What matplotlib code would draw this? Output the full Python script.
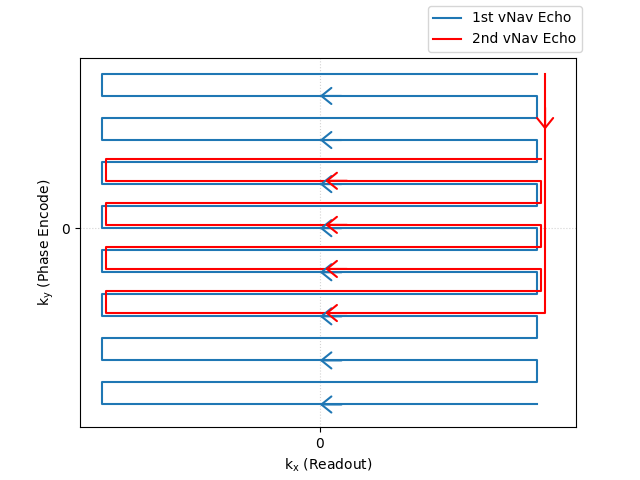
import matplotlib
matplotlib.use("Agg")
import matplotlib.pyplot as plt
import numpy as np

# data
blue_ky = list(range(-8, 8))          # phase-encode lines, bottom to top
blue_kx_left, blue_kx_right = -1.0, 1.0
red_ky = [-3.85, -2.85, -1.85, -0.85, 0.15, 1.15, 2.15, 3.15]
red_kx_left, red_kx_right = -0.9825, 1.0175
red_start_kx, red_start_ky = 1.035, 7.0
red_down_arrow_ky = 4.47

def snake(kys, xl, xr):
    xs, ys = [], []
    for i, y in enumerate(kys):
        if i % 2 == 0:
            xs += [xr, xl]
        else:
            xs += [xl, xr]
        ys += [y, y]
    return xs, ys

fig, ax = plt.subplots(figsize=(6.4, 4.8), dpi=100)

bx, by = snake(blue_ky, blue_kx_left, blue_kx_right)
ax.plot(bx, by, color='#1f77b4', lw=1.5, label='1st vNav Echo')

rx, ry = snake(red_ky, red_kx_left, red_kx_right)
rx = [red_start_kx, red_start_kx] + rx[1:]
ry = [red_start_ky, red_ky[0]] + ry[1:]
ax.plot(rx, ry, color='red', lw=1.5, label='2nd vNav Echo')

def arrow(x, y, dx, dy, color):
    ax.annotate('', xy=(x, y), xytext=(x + dx, y + dy),
                arrowprops=dict(arrowstyle='->, head_length=0.36, head_width=0.29',
                                color=color, lw=1.5,
                                mutation_scale=20, shrinkA=0, shrinkB=0))

for i, y in enumerate(blue_ky):
    if i % 2 == 0:
        arrow((blue_kx_left + blue_kx_right) / 2, y, 0.1, 0, '#1f77b4')
for i, y in enumerate(red_ky):
    if i % 2 == 0:
        arrow((red_kx_left + red_kx_right) / 2 + 0.008, y, 0.1, 0, 'red')
arrow(red_start_kx, red_down_arrow_ky, 0, 1.0, 'red')

ax.set_xlim(-1.101, 1.177)
ax.set_ylim(-9.03, 7.74)
ax.set_xticks([0])
ax.set_yticks([0])
ax.grid(True, color='lightgray', linestyle=':', linewidth=0.8)
ax.set_xlabel(r'k$_\mathregular{x}$ (Readout)')
ax.set_ylabel(r'k$_\mathregular{y}$ (Phase Encode)')

ax.legend(loc='lower right', bbox_to_anchor=(582 / 640, 1 - 52 / 480),
          bbox_transform=fig.transFigure, borderaxespad=0)

fig.savefig('out.png', dpi=100)
